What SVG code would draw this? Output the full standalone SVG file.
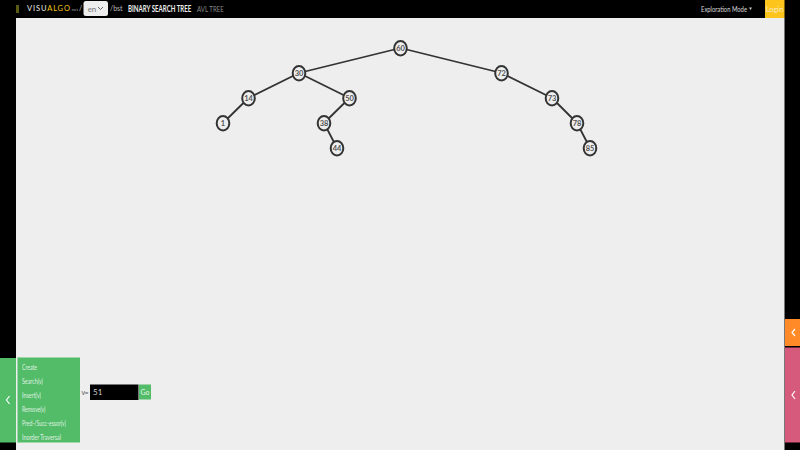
<svg xmlns="http://www.w3.org/2000/svg" width="800" height="450" viewBox="0 0 800 450">
<style>
text{font-family:Lato,"Open Sans","Liberation Sans",sans-serif}
.edge{stroke:#333;stroke-width:1.800;fill:none}
.node ellipse{fill:#eee;stroke:#333;stroke-width:2}
.node text{font-size:7.500px;font-weight:700;fill:#555;text-anchor:middle}
.menu{font-size:7.500px;fill:#fff;opacity:.8}
.chev{fill:none;stroke:#fff;stroke-width:1.200}
</style>
<rect width="800" height="450" fill="#000"/>
<rect x="16" y="18" width="768.500" height="432" fill="#eee"/>
<g id="header">
<rect x="16" y="5" width="3" height="8" fill="#5a5a10"/>
<text x="27" y="11" font-size="7.500" fill="#eee" textLength="43">VISU<tspan fill="#f5c518">ALGO</tspan></text>
<text x="71" y="11" font-size="4" fill="#aaa" textLength="7">.net</text>
<text x="79" y="11" font-size="7" fill="#ccc">/</text>
<rect x="83.500" y="1" width="24.500" height="15" rx="2.500" fill="#eee"/>
<text x="92" y="11.500" font-size="8" fill="#777" text-anchor="middle">en</text>
<path d="M98 7l2.500 2.500 2.500-2.500" fill="none" stroke="#666"/>
<text x="110" y="11" font-size="7" fill="#bbb">/bst</text>
<text transform="translate(128 11.500) scale(.72 1)" font-size="8.500" font-weight="700" fill="#eee">BINARY SEARCH TREE</text>
<text transform="translate(197 11.500) scale(.72 1)" font-size="8.500" fill="#888">AVL TREE</text>
<text x="701" y="11.500" font-size="8" fill="#ddd" textLength="46" lengthAdjust="spacingAndGlyphs">Exploration Mode</text>
<path d="M749 7.500h3l-1.500 2.500z" fill="#ccc"/>
<rect x="765" y="0" width="19.500" height="18" fill="#fdc41c"/>
<text x="774.500" y="11.500" font-size="7.500" fill="#fff" text-anchor="middle" opacity=".7">Login</text>
</g>
<g id="connectors">
<path class="edge" d="M400.500 48L299 73M400.500 48L501.500 73M299 73L248.500 98M299 73L349.500 98M248.500 98L223 123M349.500 98L324 123M324 123L337 148M501.500 73L552 98M552 98L577 123M577 123L590 148"/>
</g>
<g id="n60" class="node"><ellipse cx="400.500" cy="48.300" rx="6.300" ry="7.300"/><text x="400.500" y="51">60</text></g>
<g id="n30" class="node"><ellipse cx="299" cy="73.300" rx="6.300" ry="7.300"/><text x="299" y="76">30</text></g>
<g id="n72" class="node"><ellipse cx="501.500" cy="73.300" rx="6.300" ry="7.300"/><text x="501.500" y="76">72</text></g>
<g id="n14" class="node"><ellipse cx="248.500" cy="98.300" rx="6.300" ry="7.300"/><text x="248.500" y="101">14</text></g>
<g id="n50" class="node"><ellipse cx="349.500" cy="98.300" rx="6.300" ry="7.300"/><text x="349.500" y="101">50</text></g>
<g id="n73" class="node"><ellipse cx="552" cy="98.300" rx="6.300" ry="7.300"/><text x="552" y="101">73</text></g>
<g id="n1" class="node"><ellipse cx="223" cy="123.300" rx="6.300" ry="7.300"/><text x="223" y="126">1</text></g>
<g id="n38" class="node"><ellipse cx="324" cy="123.300" rx="6.300" ry="7.300"/><text x="324" y="126">38</text></g>
<g id="n78" class="node"><ellipse cx="577" cy="123.300" rx="6.300" ry="7.300"/><text x="577" y="126">78</text></g>
<g id="n44" class="node"><ellipse cx="337" cy="148.300" rx="6.300" ry="7.300"/><text x="337" y="151">44</text></g>
<g id="n85" class="node"><ellipse cx="590" cy="148.300" rx="6.300" ry="7.300"/><text x="590" y="151">85</text></g>
<g id="actions">
<rect x="0" y="358" width="16" height="84.500" fill="#52bc69"/>
<path class="chev" d="M9.500 396l-3 4 3 4"/>
<rect x="17.500" y="357.500" width="62.500" height="85" fill="#52bc69"/>
<text class="menu" x="22" y="369.500" textLength="15" lengthAdjust="spacingAndGlyphs">Create</text>
<text class="menu" x="22" y="383.500" textLength="21" lengthAdjust="spacingAndGlyphs">Search(v)</text>
<text class="menu" x="22" y="397.500" textLength="19" lengthAdjust="spacingAndGlyphs">Insert(v)</text>
<text class="menu" x="22" y="411.500" textLength="23.500" lengthAdjust="spacingAndGlyphs">Remove(v)</text>
<text class="menu" x="22" y="425.500" textLength="44" lengthAdjust="spacingAndGlyphs">Pred-/Succ-essor(v)</text>
<text class="menu" x="22" y="439.500" textLength="39" lengthAdjust="spacingAndGlyphs">Inorder Traversal</text>
<text x="81.500" y="395" font-size="7" fill="#555" textLength="7">v =</text>
<rect x="90" y="384.500" width="48.500" height="15.500" fill="#000"/>
<text x="93" y="395" font-size="8" fill="#ccc">51</text>
<rect x="139" y="384.500" width="12" height="15" fill="#52bc69"/>
<text x="145" y="395" font-size="7" fill="#fff" text-anchor="middle" opacity=".85">Go</text>
</g>
<g id="side-panels">
<rect x="785" y="319" width="15" height="27" fill="#ff8a27"/>
<path class="chev" d="M795 329l-3 3.500 3 3.500"/>
<rect x="785" y="347.500" width="15" height="95" fill="#d65a7c"/>
<path class="chev" d="M795 391l-3 4 3 4"/>
</g>
</svg>
